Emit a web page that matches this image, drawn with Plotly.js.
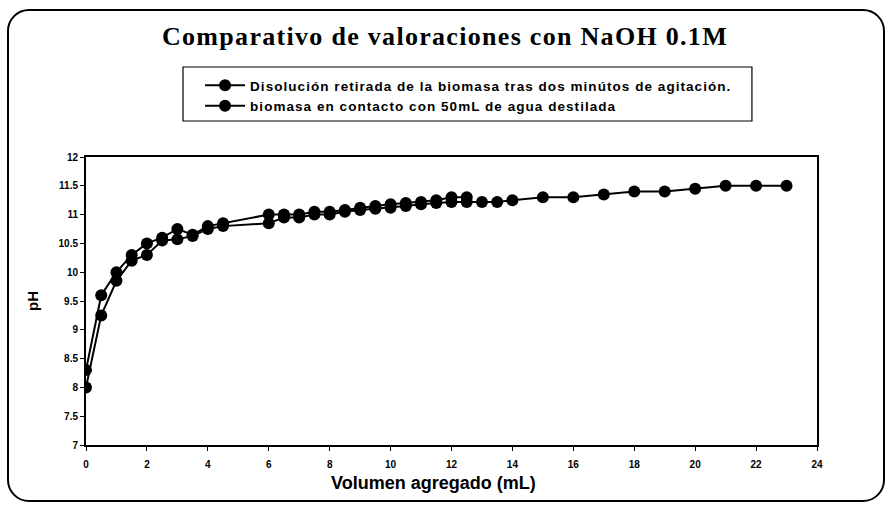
<!DOCTYPE html>
<html>
<head>
<meta charset="utf-8">
<script src="https://cdn.plot.ly/plotly-3.0.1.min.js"></script>
<style>
  html, body { margin:0; padding:0; background:#fff; }
  #wrap { position:relative; width:890px; height:505px; }
  #chart { width:890px; height:505px; }
  #frame { position:absolute; left:7px; top:9px; width:874px; height:489px;
           border:2px solid #000; border-radius:22px; pointer-events:none; }
  .gtitle { letter-spacing: 1.3px; }
  .legendtext { letter-spacing: 1.05px; }
</style>
</head>
<body>
<div id="wrap">
  <div id="chart"></div>
  <div id="frame"></div>
</div>
<script>
// Series A: Disolución retirada de la biomasa tras dos minútos de agitación.
const xA = [0, 0.5, 1, 1.5, 2, 2.5, 3, 3.5, 4, 4.5, 6, 6.5, 7, 7.5, 8, 8.5, 9, 9.5, 10, 10.5, 11, 11.5, 12, 12.5];
const yA = [8.3, 9.6, 10.0, 10.3, 10.5, 10.6, 10.75, 10.65, 10.8, 10.85, 11.0, 11.0, 11.0, 11.05, 11.05, 11.08, 11.12, 11.15, 11.18, 11.2, 11.22, 11.25, 11.3, 11.3];
// Series B: biomasa en contacto con 50mL de agua destilada
const xB = [0, 0.5, 1, 1.5, 2, 2.5, 3, 3.5, 4, 4.5, 6, 6.5, 7, 7.5, 8, 8.5, 9, 9.5, 10, 10.5, 11, 11.5, 12, 12.5, 13, 13.5, 14, 15, 16, 17, 18, 19, 20, 21, 22, 23];
const yB = [8.0, 9.25, 9.85, 10.2, 10.3, 10.55, 10.57, 10.63, 10.75, 10.8, 10.85, 10.95, 10.95, 11.0, 11.0, 11.05, 11.08, 11.1, 11.12, 11.15, 11.18, 11.2, 11.22, 11.22, 11.22, 11.22, 11.25, 11.3, 11.3, 11.35, 11.4, 11.4, 11.45, 11.5, 11.5, 11.5];
const nameA = 'Disolución retirada de la biomasa tras dos minútos de agitación.';
const nameB = 'biomasa en contacto con 50mL de agua destilada';
const titleText = 'Comparativo de valoraciones con NaOH 0.1M';
const xTitle = 'Volumen agregado (mL)';
const yTitle = 'pH';

const common = {
  type: 'scatter', mode: 'lines+markers',
  line: { color: '#000', width: 2 },
  marker: { color: '#000', size: 12, symbol: 'circle' }
};
const data = [
  Object.assign({ x: xA, y: yA, name: nameA }, common),
  Object.assign({ x: xB, y: yB, name: nameB }, common)
];

const sans = 'Liberation Sans, Arial, sans-serif';
const layout = {
  width: 890, height: 505,
  margin: { l: 86, r: 73, t: 157, b: 60 },
  paper_bgcolor: '#fff', plot_bgcolor: '#fff',
  showlegend: true,
  title: {
    text: '<b>' + titleText + '</b>',
    font: { family: 'Liberation Serif, Times New Roman, serif', size: 26, color: '#000' },
    x: 0.5, xanchor: 'center', y: 0.928, yanchor: 'middle'
  },
  legend: {
    x: 0.156, xanchor: 'left', y: 1.302, yanchor: 'top',
    borderwidth: 0, bgcolor: 'rgba(0,0,0,0)',
    font: { family: sans, size: 13.5, color: '#000', weight: 'bold' },
    itemwidth: 40, tracegroupgap: 0
  },
  shapes: [{
    type: 'rect', xref: 'paper', yref: 'paper',
    x0: 0.1327, x1: 0.911, y0: 1.125, y1: 1.3125,
    line: { color: '#000', width: 1.2 }, fillcolor: 'rgba(0,0,0,0)', layer: 'below'
  }],
  annotations: [{
    text: '<b>' + xTitle + '</b>', xref: 'paper', yref: 'paper',
    x: 0.476, y: -0.132, xanchor: 'center', yanchor: 'middle', showarrow: false,
    font: { family: sans, size: 18, color: '#000' }
  }],
  xaxis: {
    range: [0, 24], tick0: 0, dtick: 2,
    showgrid: false, zeroline: false,
    showline: true, linecolor: '#000', linewidth: 2, mirror: true,
    ticks: 'outside', ticklen: 4, tickcolor: '#000', tickwidth: 1,
    ticklabelstandoff: 5,
    tickfont: { family: sans, size: 10, color: '#000', weight: 'bold' }
  },
  yaxis: {
    range: [7, 12], tick0: 7, dtick: 0.5,
    showgrid: false, zeroline: false,
    showline: true, linecolor: '#000', linewidth: 2, mirror: true,
    ticks: 'outside', ticklen: 4, tickcolor: '#000', tickwidth: 1,
    tickfont: { family: sans, size: 10, color: '#000', weight: 'bold' },
    title: { text: '<b>' + yTitle + '</b>', font: { family: sans, size: 15, color: '#000' }, standoff: 16 }
  }
};

Plotly.newPlot('chart', data, layout, { displayModeBar: false, staticPlot: true });
</script>
</body>
</html>
